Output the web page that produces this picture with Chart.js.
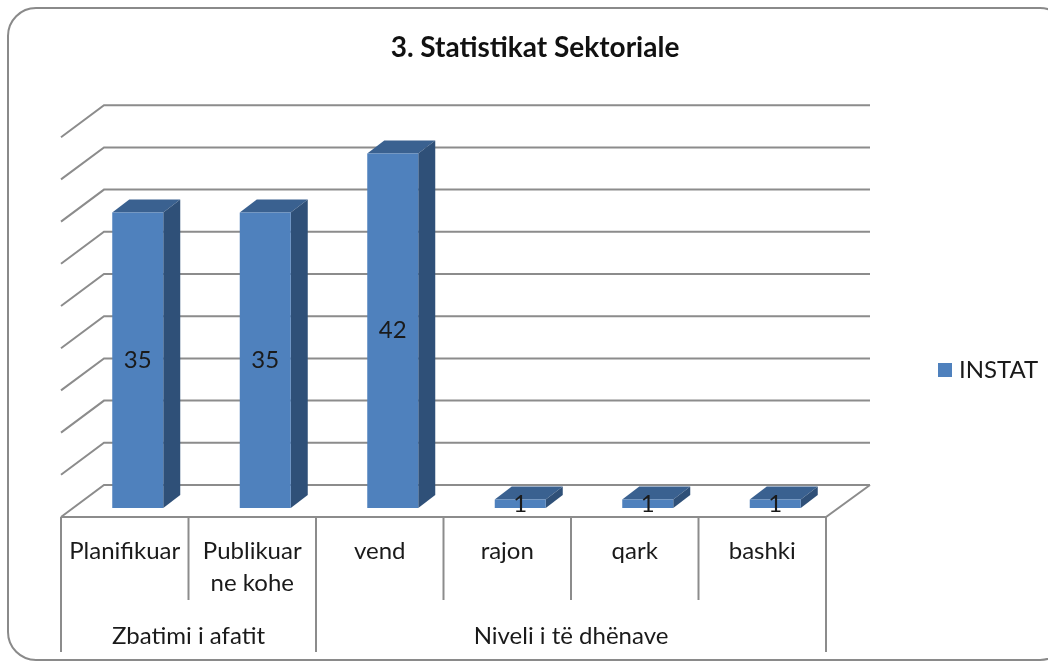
<!DOCTYPE html>
<html><head><meta charset="utf-8">
<style>html,body{margin:0;padding:0;background:#fff}#w{width:1048px;height:664px}canvas{display:block}</style>
<script src="https://cdn.jsdelivr.net/npm/chart.js@4/dist/chart.umd.min.js"></script>
</head><body><div id="w"><canvas id="c" width="1048" height="664"></canvas></div>
<script>
const categories = [["Planifikuar"],["Publikuar","ne kohe"],["vend"],["rajon"],["qark"],["bashki"]];
const groups = [{label:"Zbatimi i afatit",count:2},{label:"Niveli i të dhënave",count:4}];
const values = [35,35,42,1,1,1];
const seriesName = "INSTAT";
const titleText = "3. Statistikat Sektoriale";
const yMax = 45, yStep = 5;
const FONT = "Lato";
const GRID = "#8c8c8c", TXT = "#1a1a1a";
const FRONT = "#4f81bd", SIDE = "#2f5078", TOP = "#3a6190";
const BAR = {dx:13, dy:-9}, WALL = {dx:43, dy:-32}, DEPTH = {dx:17, dy:-13};

const swatch = document.createElement("canvas");
swatch.width = 14; swatch.height = 14;
const sctx = swatch.getContext("2d"); sctx.fillStyle = FRONT; sctx.fillRect(0,0,14,14);

const frame3d = {
  id:"frame3d",
  beforeDraw(c){
    const x=c.ctx; x.save();
    x.strokeStyle="#8a8a8a"; x.lineWidth=2; x.fillStyle="#fff";
    x.beginPath(); x.roundRect(8,8,1060,652,28); x.fill(); x.stroke();
    x.restore();
  },
  beforeDatasetsDraw(c){
    const x=c.ctx, ys=c.scales.y, a=c.chartArea;
    x.save(); x.strokeStyle=GRID; x.lineWidth=2;
    ys.ticks.forEach(t=>{
      const py=ys.getPixelForValue(t.value);
      x.beginPath(); x.moveTo(a.left,py); x.lineTo(a.left+WALL.dx,py+WALL.dy); x.lineTo(a.right+WALL.dx+1,py+WALL.dy); x.stroke();
    });
    const y0=ys.getPixelForValue(0);
    x.beginPath(); x.moveTo(a.left,y0); x.lineTo(a.right,y0); x.lineTo(a.right+WALL.dx+1,y0+WALL.dy); x.stroke();
    const step=(a.right-a.left)/categories.length;
    for(let i=0;i<=categories.length;i++){
      const px=a.left+step*i;
      const boundary = i===0||i===categories.length||i===groups[0].count;
      x.beginPath(); x.moveTo(px,y0); x.lineTo(px,boundary?652:600); x.stroke();
    }
    x.fillStyle=TXT; x.font="24px '"+FONT+"'"; x.textAlign="center"; x.textBaseline="middle";
    let s=0;
    groups.forEach(g=>{ x.fillText(g.label,a.left+step*(s+g.count/2),636); s+=g.count; });
    x.restore();
    x.save(); x.translate(BAR.dx,BAR.dy);
    c.getDatasetMeta(0).data.forEach(b=>{
      const l=b.x-b.width/2, r=b.x+b.width/2, t=b.y, bt=b.base;
      x.fillStyle=TOP; x.beginPath(); x.moveTo(l,t); x.lineTo(l+DEPTH.dx,t+DEPTH.dy); x.lineTo(r+DEPTH.dx,t+DEPTH.dy); x.lineTo(r,t); x.closePath(); x.fill();
      x.fillStyle=SIDE; x.beginPath(); x.moveTo(r,t); x.lineTo(r+DEPTH.dx,t+DEPTH.dy); x.lineTo(r+DEPTH.dx,bt+DEPTH.dy); x.lineTo(r,bt); x.closePath(); x.fill();
    });
  },
  afterDatasetsDraw(c){
    const x=c.ctx; x.restore();
    x.save(); x.fillStyle=TXT; x.font="24px '"+FONT+"'"; x.textAlign="center"; x.textBaseline="middle";
    c.getDatasetMeta(0).data.forEach((b,i)=>{
      x.fillText(String(values[i]),b.x+BAR.dx,(b.y+b.base)/2+BAR.dy);
    });
    x.restore();
  },
  afterLayout(c){
    const l=c.legend; if(l){ l.left=935; l.top=350; l.right=1048; l.bottom=382; }
    const t=c.titleBlock; if(t){ t.left=0; t.right=1070; }
  }
};

new Chart(document.getElementById("c"),{
  type:"bar",
  data:{labels:categories,datasets:[{label:seriesName,data:values,backgroundColor:FRONT,borderWidth:0,barPercentage:0.4,categoryPercentage:1,clip:false}]},
  plugins:[frame3d],
  options:{
    responsive:false,animation:false,
    layout:{padding:{left:61,right:222,top:0,bottom:0}},
    plugins:{
      title:{display:true,text:titleText,color:"#111",font:{family:FONT,size:28,weight:"bold"},padding:{top:31,bottom:72.6}},
      legend:{display:true,position:"chartArea",align:"start",labels:{usePointStyle:true,pointStyle:swatch,pointStyleWidth:4,color:TXT,font:{family:FONT,size:24},padding:8}},
      tooltip:{enabled:false}
    },
    scales:{
      x:{grid:{display:false},border:{display:false},ticks:{color:TXT,font:{family:FONT,size:24,lineHeight:1.33},padding:10,maxRotation:0,minRotation:0,autoSkip:false},
         afterFit(s){s.height=147;}},
      y:{min:0,max:yMax,ticks:{stepSize:yStep,display:false},grid:{display:false},border:{display:false},
         afterFit(s){s.width=0;}}
    }
  }
});
</script></body></html>
